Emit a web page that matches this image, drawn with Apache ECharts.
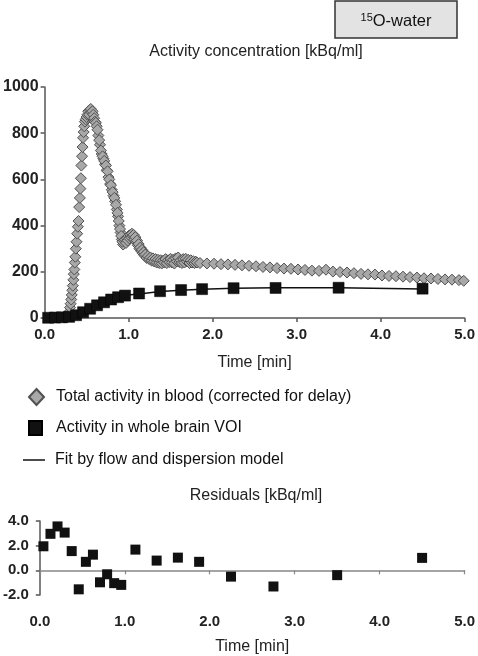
<!DOCTYPE html>
<html><head><meta charset="utf-8">
<script src="https://cdn.jsdelivr.net/npm/echarts@6/dist/echarts.min.js"></script>
<style>html,body{margin:0;padding:0;background:#fff}#c{width:478px;height:656px}</style>
</head><body><div id="c"></div>
<script>
// ---- data ----
const xTickLabels = ['0.0', '1.0', '2.0', '3.0', '4.0', '5.0'];
const mainYTicks = [0, 200, 400, 600, 800, 1000];
const residYTickLabels = ['-2.0', '0.0', '2.0', '4.0'];

const bloodTime = [
  0.24,0.26,0.28,
  0.290,0.297,0.303,0.310,0.317,0.323,0.330,0.336,0.342,0.348,0.354,0.360,0.366,0.372,0.380,0.388,0.396,0.404,0.412,0.420,
  0.426,0.432,0.438,0.446,0.452,0.458,0.465,0.472,0.480,0.490,0.500,0.510,0.520,0.530,0.540,0.550,0.560,0.570,0.580,0.590,0.600,0.610,
  0.620,0.640,0.660,0.680,0.700,0.720,0.740,0.760,0.780,0.800,0.820,0.840,0.860,0.875,0.890,0.905,0.920,0.935,
  0.630,0.650,0.670,0.690,0.710,0.730,0.750,0.770,0.790,0.810,0.830,0.850,0.868,0.883,0.898,0.912,0.927,
  0.950,0.960,0.970,0.980,0.990,1.000,1.010,1.020,1.030,1.040,1.050,1.060,1.070,1.080,1.090,1.100,1.110,1.120,1.130,1.140,1.150,1.160,1.170,1.180,1.190,1.200,
  1.215,1.230,1.245,1.260,1.275,1.290,1.305,1.320,1.335,1.350,1.365,1.380,1.395,1.410,1.425,1.440,1.455,1.470,1.485,1.500,
  1.515,1.530,1.545,1.560,1.575,1.590,1.605,1.620,1.635,1.650,1.665,1.680,1.695,1.710,1.725,1.740,1.755,1.770,1.785,1.800,1.815,
  1.850,1.933,2.017,2.100,2.183,2.267,2.350,2.433,2.517,2.600,2.683,2.767,2.850,2.933,3.017,3.100,3.183,3.267,3.350,3.433,
  3.517,3.600,3.683,3.767,3.850,3.933,4.017,4.100,4.183,4.267,4.350,4.433,4.517,4.600,4.683,4.767,4.850,4.933,4.990
];
const bloodValue = [
  2,4,8,
  15,28,45,62,80,100,120,140,165,190,210,240,265,300,330,365,395,420,480,520,
  560,605,660,700,740,780,805,830,850,860,870,880,895,880,900,905,890,895,880,865,850,845,
  830,790,750,710,690,665,640,610,580,555,530,505,470,440,400,370,340,318,
  815,770,725,700,680,660,635,600,575,545,520,490,455,420,385,355,330,
  335,340,325,345,335,355,345,360,350,365,355,360,340,350,330,335,315,320,300,305,290,295,280,285,270,275,
  260,268,255,262,248,258,245,255,240,252,238,250,236,248,240,255,238,250,242,256,
  240,252,236,258,245,262,242,250,238,255,240,256,245,252,238,250,240,246,238,244,240,
  238,236,235,233,232,230,228,226,224,221,219,216,214,213,210,208,205,204,209,201,
  199,197,194,191,189,188,184,182,181,179,177,175,172,171,169,167,166,164,161
];

const brainTime  = [0.042,0.125,0.208,0.292,0.375,0.458,0.542,0.625,0.708,0.792,0.875,0.958,1.125,1.375,1.625,1.875,2.25,2.75,3.5,4.5];
const brainValue = [1,2,3,5,12,25,40,55,68,80,90,97,106,116,121,125,129,130,131,127];

const fitTime  = [0,0.042,0.125,0.208,0.292,0.375,0.458,0.542,0.625,0.708,0.792,0.875,0.958,1.125,1.375,1.625,1.875,2.25,2.75,3.5,4.5];
const fitValue = [0,0,0,0,2,10,26,39,54,69,80,91,98,104,115,120,124,129,131,131,126];

const residTime  = [0.042,0.125,0.208,0.292,0.375,0.458,0.542,0.625,0.708,0.792,0.875,0.958,1.125,1.375,1.625,1.875,2.25,2.75,3.5,4.5];
const residValue = [1.95,2.96,3.56,3.06,1.56,-1.54,0.69,1.27,-0.97,-0.32,-1.04,-1.18,1.68,0.79,1.03,0.69,-0.51,-1.31,-0.39,1.01];

const seriesNames = ['Total activity in blood (corrected for delay)', 'Activity in whole brain VOI', 'Fit by flow and dispersion model'];

// ---- chart ----
const FONT = '"Liberation Sans", Arial, Helvetica, sans-serif';
const zip = (a, b) => a.map((v, i) => [v, b[i]]);
const chart = echarts.init(document.getElementById('c'), null, {renderer: 'canvas'});

const xLabelFmt = v => xTickLabels[Math.round(v)];
const axisLine = c => ({show: true, onZero: true, lineStyle: {color: c, width: 1.5}});
const legendBase = (name, icon, left, top, w, h, pad) => ({
  orient: 'vertical', left: left, top: top, padding: 0, itemWidth: w, itemHeight: h,
  textStyle: {fontSize: 16, color: '#111', fontFamily: FONT, padding: [0, 0, 0, pad]},
  data: [{name: name, icon: icon}]
});

chart.setOption({
  animation: false,
  backgroundColor: '#fff',
  textStyle: {fontFamily: FONT},
  grid: [
    {left: 44, right: 10, top: 87, height: 231},
    {left: 37, right: 10, top: 521, height: 116}
  ],
  xAxis: [
    {gridIndex: 0, type: 'value', min: 0, max: 5, interval: 1,
     axisLine: axisLine('#555'),
     axisTick: {show: true, length: 4, lineStyle: {color: '#555', width: 1.5}},
     axisLabel: {formatter: xLabelFmt, fontSize: 15, fontWeight: 'bold', color: '#222', margin: 9, fontFamily: FONT},
     splitLine: {show: false},
     name: 'Time [min]', nameLocation: 'middle', nameGap: 37,
     nameTextStyle: {fontSize: 16, color: '#222', fontFamily: FONT}},
    {gridIndex: 1, type: 'value', min: 0, max: 5, interval: 1,
     axisLine: axisLine('#888'),
     axisTick: {show: true, length: 4, lineStyle: {color: '#888', width: 1.2}},
     axisLabel: {formatter: xLabelFmt, fontSize: 15, fontWeight: 'bold', color: '#222', margin: 19, fontFamily: FONT},
     splitLine: {show: false},
     name: 'Time [min]', nameLocation: 'middle', nameGap: 44,
     nameTextStyle: {fontSize: 16, color: '#222', fontFamily: FONT}}
  ],
  yAxis: [
    {gridIndex: 0, type: 'value', min: 0, max: 1000, interval: 200,
     axisLine: axisLine('#555'),
     axisTick: {show: true, length: 4, lineStyle: {color: '#555', width: 1.5}},
     axisLabel: {formatter: v => String(mainYTicks[Math.round(v / 200)]), fontSize: 16, fontWeight: 'bold', color: '#222', margin: 6, fontFamily: FONT},
     splitLine: {show: false}},
    {gridIndex: 1, type: 'value', min: -2, max: 4, interval: 2,
     axisLine: axisLine('#555'),
     axisTick: {show: true, length: 4, lineStyle: {color: '#555', width: 1.5}},
     axisLabel: {formatter: v => residYTickLabels[Math.round((v + 2) / 2)], fontSize: 15, fontWeight: 'bold', color: '#222', margin: 11, fontFamily: FONT},
     splitLine: {show: false}}
  ],
  legend: [
    legendBase(seriesNames[0], 'diamond', 28, 388, 15, 16, 7),
    legendBase(seriesNames[1], 'rect', 28, 420, 13, 14, 9),
    legendBase(seriesNames[2], 'rect', 23, 452, 22, 1.5, 5)
  ],
  graphic: [
    {type: 'rect', shape: {x: 335, y: 1, width: 122, height: 37},
     style: {fill: '#e3e3e3', stroke: '#333', lineWidth: 1.5}},
    {type: 'text', x: 396, y: 21,
     style: {rich: {s: {fontSize: 11, fontFamily: FONT, fill: '#111', verticalAlign: 'top', padding: [0, 0, 7, 0]},
                    n: {fontSize: 16.5, fontFamily: FONT, fill: '#111'}},
             text: '{s|15}{n|O-water}', align: 'center', verticalAlign: 'middle'}},
    {type: 'text', x: 256, y: 52,
     style: {text: 'Activity concentration [kBq/ml]', fontSize: 16, fontFamily: FONT, fill: '#222', align: 'center', verticalAlign: 'middle'}},
    {type: 'text', x: 256, y: 496,
     style: {text: 'Residuals [kBq/ml]', fontSize: 16, fontFamily: FONT, fill: '#222', align: 'center', verticalAlign: 'middle'}}
  ],
  series: [
    {name: seriesNames[0], type: 'scatter', xAxisIndex: 0, yAxisIndex: 0,
     symbol: 'diamond', symbolSize: 11, z: 2,
     itemStyle: {color: '#a8a8a8', borderColor: '#505050', borderWidth: 1, opacity: 1},
     data: zip(bloodTime, bloodValue)},
    {name: seriesNames[2], type: 'line', xAxisIndex: 0, yAxisIndex: 0,
     symbol: 'none', showSymbol: false, z: 3,
     lineStyle: {color: '#111', width: 1.5}, itemStyle: {color: '#111'},
     data: zip(fitTime, fitValue)},
    {name: seriesNames[1], type: 'scatter', xAxisIndex: 0, yAxisIndex: 0,
     symbol: 'rect', symbolSize: 11, z: 4,
     itemStyle: {color: '#111', borderColor: '#000', borderWidth: 0.5, opacity: 1},
     data: zip(brainTime, brainValue)},
    {name: 'Residuals', type: 'scatter', xAxisIndex: 1, yAxisIndex: 1,
     symbol: 'rect', symbolSize: 10, z: 4,
     itemStyle: {color: '#111', opacity: 1},
     data: zip(residTime, residValue)}
  ]
});
</script>
</body></html>
